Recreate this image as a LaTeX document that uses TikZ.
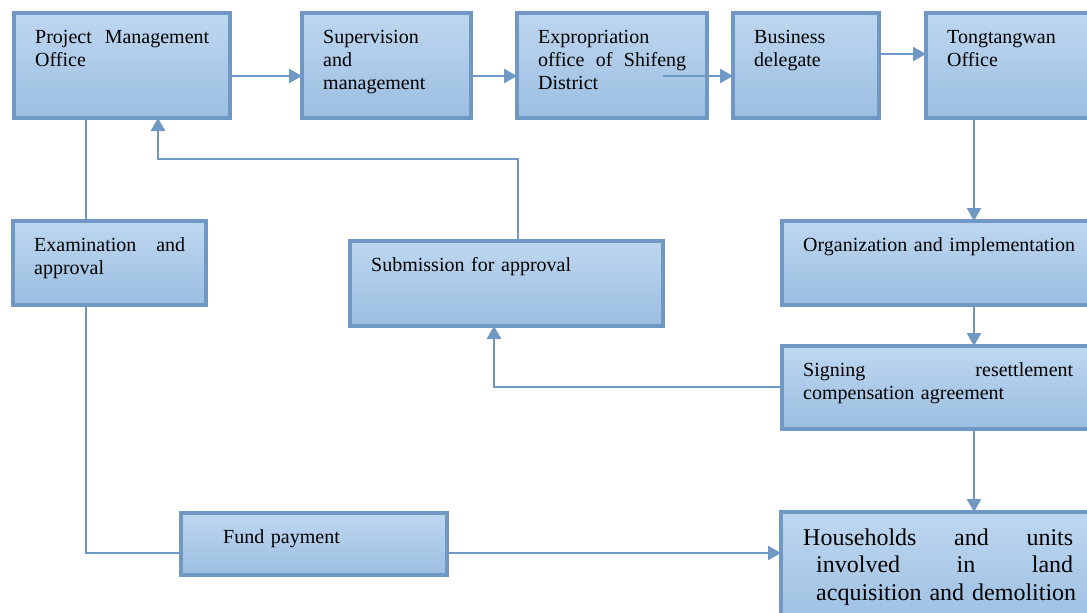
\documentclass[tikz,border=0pt]{standalone}
\usepackage{fontspec}
\setmainfont{Liberation Serif}
\usetikzlibrary{arrows.meta,calc}
\definecolor{bordc}{RGB}{112,152,196}
\definecolor{linec}{RGB}{112,152,196}
\definecolor{topc}{RGB}{190,215,240}
\definecolor{botc}{RGB}{155,190,225}
\newcommand{\J}[2]{\leavevmode\hbox to #1pt{#2}}
\begin{document}
\begin{tikzpicture}[x=1pt,y=-1pt,
  box/.style={draw=bordc, line width=3.2pt, top color=topc, bottom color=botc, rectangle, anchor=north west, outer sep=0pt, inner sep=0pt},
  txt/.style={anchor=north west, inner xsep=21pt, inner ysep=14pt, align=left, font=\fontsize{20}{23}\selectfont},
  bigtxt/.style={txt, font=\fontsize{24}{27.5}\selectfont},
  conn/.style={draw=linec, line width=2.4pt},
  arr/.style={conn, -{Triangle[length=13pt,width=14pt]}}
]
\useasboundingbox (0,0) rectangle (1087,613);
\clip (0,0) rectangle (1087,613);
% top row
\node[box, minimum width=216pt, minimum height=105pt,
  label={[txt, text width=174pt]north west:{\strut\J{174}{Project\hfill Management}\\Office}}] (pmo) at (14,13) {};
\node[box, minimum width=169pt, minimum height=105pt,
  label={[txt, text width=127pt]north west:{\strut Supervision\\and\\management}}] (sup) at (302,13) {};
\node[box, minimum width=190pt, minimum height=105pt,
  label={[txt, text width=148pt]north west:{\strut Expropriation\\\J{148}{office\hfill of\hfill Shifeng}\\District}}] (exp) at (517,13) {};
\node[box, minimum width=146pt, minimum height=105pt,
  label={[txt, text width=104pt]north west:{\strut Business\\delegate}}] (bus) at (733,13) {};
\node[box, minimum width=180pt, minimum height=105pt,
  label={[txt, text width=138pt]north west:{\strut Tongtangwan\\Office}}] (tong) at (926,13) {};
% middle
\node[box, minimum width=193pt, minimum height=84pt,
  label={[txt, text width=151pt]north west:{\strut\J{151}{Examination\hfill and}\\approval}}] (exam) at (13,221) {};
\node[box, minimum width=313pt, minimum height=85pt,
  label={[txt, text width=271pt]north west:{\strut Submission for approval}}] (sub) at (350,241) {};
\node[box, minimum width=320pt, minimum height=84pt,
  label={[txt, text width=278pt]north west:{\strut Organization and implementation}}] (org) at (782,221) {};
\node[box, minimum width=320pt, minimum height=83pt,
  label={[txt, text width=278pt]north west:{\strut\J{270}{Signing\hfill resettlement}\\compensation agreement}}] (sign) at (782,346) {};
% bottom
\node[box, minimum width=266pt, minimum height=62pt,
  label={[txt, inner xsep=42pt, text width=182pt]north west:{\strut Fund payment}}] (fund) at (181,513) {};
\node[box, minimum width=320pt, minimum height=120pt,
  label={[bigtxt, inner xsep=22pt, text width=276pt]north west:{\strut\J{270}{Households\hfill and\hfill units}\\\hspace*{13pt}\J{257}{involved\hfill in\hfill land}\\\hspace*{13pt}acquisition and demolition}}] (hh) at (781,512) {};
% connectors
\coordinate (ya) at (0,76);
\coordinate (yb) at (0,54);
\coordinate (eb) at (663,76);
\draw[arr] (pmo.east |- ya) -- (sup.west |- ya);
\draw[arr] (sup.east |- ya) -- (exp.west |- ya);
\draw[arr] (eb) -- (bus.west |- eb);
\draw[arr] (bus.east |- yb) -- (tong.west |- yb);
\coordinate (xr) at (974,0);
\draw[arr] (tong.south -| xr) -- (org.north -| xr);
\draw[arr] (org.south -| xr) -- (sign.north -| xr);
\draw[arr] (sign.south -| xr) -- (hh.north -| xr);
\coordinate (ys) at (0,387);
\coordinate (xs) at (494,0);
\draw[arr] (sign.west |- ys) -| (sub.south -| xs);
\coordinate (yt) at (0,159);
\coordinate (xt1) at (518,0);
\coordinate (xt2) at (158,0);
\draw[arr] (sub.north -| xt1) |- (xt2 |- yt) -- (pmo.south -| xt2);
\coordinate (xl) at (86,0);
\coordinate (yf) at (0,553);
\draw[conn] (pmo.south -| xl) -- (exam.north -| xl);
\draw[conn] (exam.south -| xl) |- (fund.west |- yf);
\draw[arr] (fund.east |- yf) -- (hh.west |- yf);
\end{tikzpicture}
\end{document}
